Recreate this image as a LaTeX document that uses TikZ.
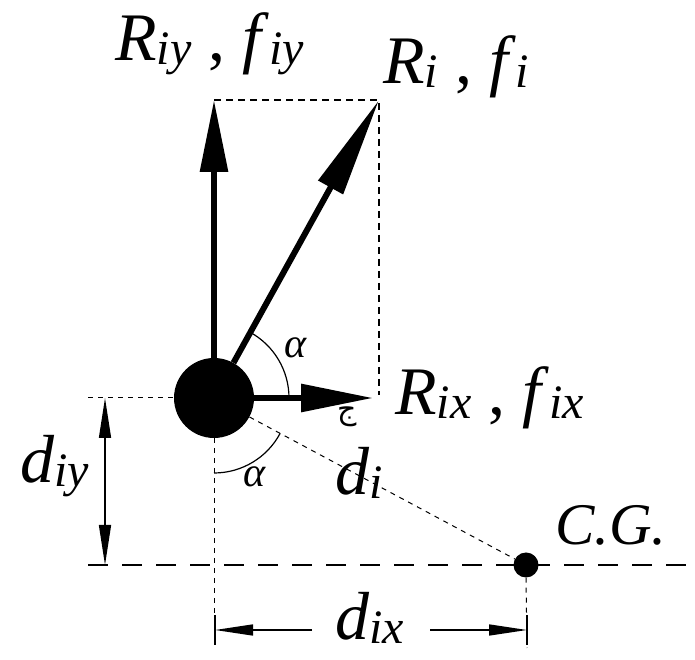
\documentclass[tikz,border=0pt]{standalone}
\usepackage{fontspec}
\setmainfont{Liberation Serif}
\newfontfamily\arabicfont[Script=Arabic]{DejaVu Sans}
\usetikzlibrary{arrows.meta}
\newcommand{\lab}[2]{\textit{#1}\raisebox{-0.05em}{\fontsize{48pt}{48pt}\selectfont\textit{#2}}}
\begin{document}
\begin{tikzpicture}[x=1pt,y=1pt,
  big/.style={line width=6pt,-{Triangle[length=72pt,width=27pt]}},
  bigdiag/.style={line width=6pt,-{Triangle[length=100pt,width=27pt]}},
  rect/.style={line width=1.2pt,dash pattern=on 7pt off 5pt},
  fine/.style={line width=1pt,dash pattern=on 5pt off 5pt},
  longdash/.style={line width=1.8pt,dash pattern=on 20pt off 14pt},
  dimv/.style={line width=1.5pt,{Triangle[length=40pt,width=12pt]}-{Triangle[length=40pt,width=12pt]}},
  dimh/.style={line width=1.5pt,-{Triangle[length=38pt,width=11pt]}},
  anglearc/.style={line width=1.2pt},
  biglab/.style={anchor=base west,inner sep=0pt,font=\fontsize{68pt}{68pt}\selectfont},
  alab/.style={inner sep=0pt,font=\fontsize{42pt}{42pt}\selectfont\itshape},
  dot/.style={circle,fill=black,inner sep=0pt}
]
\useasboundingbox (0,0) rectangle (695,660);
\fill[white] (0,0) rectangle (695,660);
% key points
\coordinate (Ty) at (214,560);
\coordinate (Ti) at (379,560);
\coordinate (Tx) at (373,262);
\coordinate (Rb) at (379,265);
\coordinate (Lw) at (88,262);
\coordinate (Bl) at (88,95);
\coordinate (Br) at (695,95);
\coordinate (Vb) at (214,12);
\coordinate (Gb) at (527,12);
\coordinate (Dt) at (105,262);
\coordinate (Db) at (105,95);
\coordinate (XL) at (215,30);
\coordinate (XR) at (527,30);
\coordinate (XLa) at (312,30);
\coordinate (XRa) at (430,30);
% nodes
\node[dot,minimum size=80pt] (ball) at (214,262) {};
\draw[longdash] (Bl) -- (Br);
\node[dot,minimum size=25pt] (cg) at (526,95) {};
% dashed guides
\draw[rect] (Ty) -- (Ti) -- (Rb);
\draw[fine] (Lw) -- (ball.west);
\draw[fine] (ball.south) -- (Vb);
\draw[fine] (cg.south) -- (Gb);
\draw[fine] (ball) -- (cg);
% force arrows
\draw[big] (ball) -- (Ty);
\draw[bigdiag] (ball) -- (Ti);
\draw[big] (ball) -- (Tx);
% angle arcs
\draw[anglearc] ([shift={(0:75)}]ball.center) arc[start angle=0,end angle=61,radius=75];
\draw[anglearc] ([shift={(-90:75)}]ball.center) arc[start angle=-90,end angle=-28.2,radius=75];
\node[alab] (a1) at (296,312) {α};
\node[alab] (a2) at (255,183) {α};
% dimensions
\draw[dimv] (Dt) -- (Db);
\draw[line width=1.5pt] (215,15) -- (215,45);
\draw[line width=1.5pt] (527,15) -- (527,45);
\draw[dimh] (XLa) -- (XL);
\draw[dimh] (XRa) -- (XR);
% labels
\node[biglab] (liy) at (115,599) {\lab{R}{iy} , \lab{f}{iy}};
\node[biglab] (li) at (383,576) {\lab{R}{i} , \lab{f}{i}};
\node[biglab] (lix) at (395,245) {\lab{R}{ix} , \lab{f}{ix}};
\node[biglab] (ldiy) at (20,177) {\lab{d}{iy}};
\node[biglab] (ldi) at (335,165) {\lab{d}{i}};
\node[biglab] (ldix) at (335,20) {\lab{d}{ix}};
\node[anchor=base west,inner sep=0pt,font=\fontsize{59pt}{59pt}\selectfont\itshape] (lcg) at (555,115) {C.G.};
\node[inner sep=0pt,font=\fontsize{30pt}{30pt}\selectfont\arabicfont] (mk) at (347,243) {ج};
\end{tikzpicture}
\end{document}
